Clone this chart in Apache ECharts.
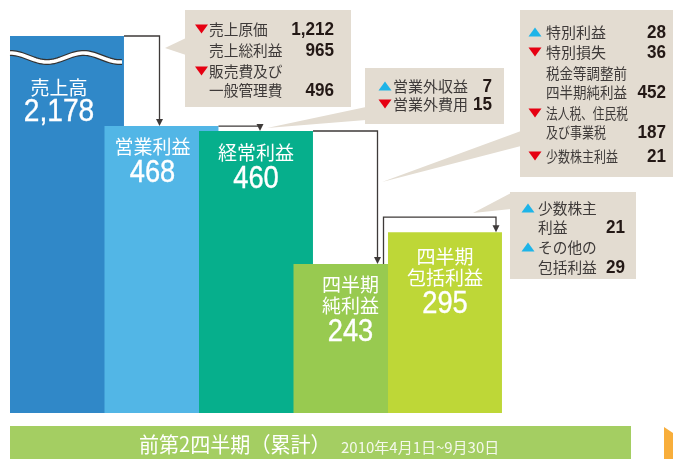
<!DOCTYPE html>
<html>
<head>
<meta charset="utf-8">
<script src="https://cdn.jsdelivr.net/npm/echarts@6/dist/echarts.min.js"></script>
<style>
  html, body { margin: 0; padding: 0; background: #fff; }
  #chart { width: 673px; height: 459px; }
</style>
</head>
<body>
<div id="chart"></div>
<script>
// 前第2四半期（累計）の損益の流れ
const categories = ["売上高", "営業利益", "経常利益", "四半期\n純利益", "四半期\n包括利益"];
const values = [2178, 468, 460, 243, 295];
const valueLabels = ["2,178", "468", "460", "243", "295"];

// callout: 売上高 → 営業利益
const box1Marks = ["down", "", "down", ""];
const box1Labels = ["売上原価", "売上総利益", "販売費及び", "一般管理費"];
const box1Values = ["1,212", "965", "", "496"];

// callout: 営業利益 → 経常利益
const box2Marks = ["up", "down"];
const box2Labels = ["営業外収益", "営業外費用"];
const box2Values = ["7", "15"];

// callout: 経常利益 → 四半期純利益
const box3Marks = ["up", "down", "", "", "down", "", "down"];
const box3Labels = ["特別利益", "特別損失", "税金等調整前", "四半期純利益", "法人税、住民税", "及び事業税", "少数株主利益"];
const box3Values = ["28", "36", "", "452", "", "187", "21"];

// callout: 四半期純利益 → 四半期包括利益
const box4Marks = ["up", "", "up", ""];
const box4Labels = ["少数株主", "利益", "その他の", "包括利益"];
const box4Values = ["", "21", "", "29"];

const periodTitle = "前第2四半期（累計）";
const periodRange = "2010年4月1日~9月30日";

const barColors = ["#3088c8", "#52b6e6", "#06af8c", "#98ca50", "#bed737"];
const yMax = 615;      // 売上高 is cut off (wavy break)
const barW = 1.206;    // bars overlap their neighbours
const cjk = '"Noto Sans CJK JP", sans-serif';
const num = '"Liberation Sans", Arial, sans-serif';
const lineColor = "#3e3a39";

// label placement inside each bar (offsets from the bar's top-left)
const labelDx = [49, 48, 57, 57, 57];
const labelDy = [52, 21, 22, 21, 25];

function renderBar(params, api) {
  const i = params.dataIndex;
  const v = Math.min(api.value(1), yMax);
  const tl = api.coord([api.value(0), v]);
  const bl = api.coord([api.value(0), 0]);
  const w = api.size([barW, 0])[0];
  const children = [{
    type: "rect",
    shape: { x: tl[0], y: tl[1], width: w, height: bl[1] - tl[1] },
    style: { fill: barColors[i] },
    z2: i
  }];
  const cx = tl[0] + labelDx[i];
  const y = tl[1] + labelDy[i];
  const lines = categories[i].split("\n");
  lines.forEach((t, k) => {
    children.push({
      type: "text", z2: 50,
      style: { text: t, x: cx, y: y + k * 21, align: "center", verticalAlign: "middle",
        font: "19px " + cjk, fill: "#fff" }
    });
  });
  const vy = y + (lines.length - 1) * 21 + (i === 0 ? 24 : 26);
  children.push({
    type: "text", z2: 50,
    x: cx, y: vy, scaleX: 0.88,
    style: { text: valueLabels[i], x: 0, y: 0,
      align: "center", verticalAlign: "middle", font: (i === 0 ? "32px " : "31px ") + num,
      fill: "#fff", stroke: "#fff", lineWidth: 0.4 }
  });
  if (i === 0) {
    // wavy break across the first bar
    const pts = [];
    for (let x = tl[0]; x <= tl[0] + w; x += 2) {
      pts.push([x, tl[1] + 21.5 + 4.5 * Math.cos(2 * Math.PI * (x - tl[0] - 37) / 73)]);
    }
    children.push({ type: "polyline", z2: 20, shape: { points: pts },
      style: { stroke: "#333", lineWidth: 6, fill: null } });
    children.push({ type: "polyline", z2: 21, shape: { points: pts },
      style: { stroke: "#fff", lineWidth: 3.6, fill: null } });
  }
  return { type: "group", children };
}

const chart = echarts.init(document.getElementById("chart"));
chart.setOption({
  animation: false,
  grid: { left: 10, right: 96, top: 36, bottom: 46 },
  xAxis: { type: "value", min: 0, max: 6, show: false },
  yAxis: { type: "value", min: 0, max: yMax, show: false },
  series: [{
    type: "custom",
    renderItem: renderBar,
    clip: false,
    data: values.map((v, i) => [i, v])
  }]
});

// pixel helpers from the grid
const px = (x, v) => chart.convertToPixel({ gridIndex: 0 }, [x, Math.min(v, yMax)]);
const barLeft = (i) => px(i, values[i])[0];
const barRight = (i) => px(i + barW, values[i])[0];
const barTop = (i) => px(i, values[i])[1];

const graphics = [];

function arrowDown(x, y) {
  graphics.push({ type: "polygon", z: 10,
    shape: { points: [[x - 3.5, y - 7], [x + 3.5, y - 7], [x, y]] },
    style: { fill: lineColor } });
}
function path(points) {
  graphics.push({ type: "polyline", z: 10, shape: { points },
    style: { stroke: lineColor, lineWidth: 1.3, fill: null } });
}

// connectors between bars
{
  const x1 = barLeft(1) + 55;
  path([[barRight(0), barTop(0)], [x1, barTop(0)], [x1, barTop(1) - 6]]);
  arrowDown(x1, barTop(1));
  const x2 = barLeft(2) + 61;
  path([[barRight(1), barTop(1)], [x2, barTop(1)]]);
  arrowDown(x2, barTop(2));
  const x3 = barLeft(3) + 84;
  path([[barRight(2), barTop(2)], [x3, barTop(2)], [x3, barTop(3) - 6]]);
  arrowDown(x3, barTop(3));
  const x4a = barLeft(3) + 90;
  const x4b = barLeft(4) + 108;
  const yUp = barTop(4) - 15;
  path([[x4a, barTop(3)], [x4a, yUp], [x4b, yUp], [x4b, barTop(4) - 6]]);
  arrowDown(x4b, barTop(4));
}

// callout boxes (squeeze = horizontal scale of each label)
const boxes = [
  { marks: box1Marks, labels: box1Labels, values: box1Values,
    rect: [185, 10, 166, 97], tail: [[165, 48], [186, 38], [186, 55]],
    markX: 201.5, textX: 209, numX: 334, rowY: [29, 50, 71, 90],
    squeeze: [0.98, 0.98, 0.98, 0.98] },
  { marks: box2Marks, labels: box2Labels, values: box2Values,
    rect: [365, 68, 139, 56], tail: [[267, 128], [366, 107], [366, 120]],
    markX: 385, textX: 393, numX: 492, rowY: [86, 104],
    squeeze: [1, 1] },
  { marks: box3Marks, labels: box3Labels, values: box3Values,
    rect: [520, 10, 153, 167], tail: [[382, 182], [521, 131], [521, 146]],
    markX: 535, textX: 546, numX: 666, rowY: [32, 52, 73, 92, 113, 132, 156],
    squeeze: [1, 1, 0.9, 0.9, 0.78, 0.8, 0.8] },
  { marks: box4Marks, labels: box4Labels, values: box4Values,
    rect: [510, 192, 126, 87], tail: [[473, 213], [511, 193], [511, 209]],
    markX: 528, textX: 538, numX: 625, rowY: [208, 227, 247, 267],
    squeeze: [0.98, 0.98, 0.98, 0.98] }
];

boxes.forEach((b) => {
  graphics.push({ type: "polygon", z: 5, shape: { points: b.tail }, style: { fill: "#e3dcd1" } });
  graphics.push({ type: "rect", z: 5,
    shape: { x: b.rect[0], y: b.rect[1], width: b.rect[2], height: b.rect[3] },
    style: { fill: "#e3dcd1" } });
  b.labels.forEach((t, k) => {
    const y = b.rowY[k];
    const m = b.marks[k];
    if (m === "down") {
      graphics.push({ type: "polygon", z: 6,
        shape: { points: [[b.markX - 6.5, y - 4.5], [b.markX + 6.5, y - 4.5], [b.markX, y + 4.5]] },
        style: { fill: "#e60012" } });
    } else if (m === "up") {
      graphics.push({ type: "polygon", z: 6,
        shape: { points: [[b.markX - 6.5, y + 4.5], [b.markX + 6.5, y + 4.5], [b.markX, y - 4.5]] },
        style: { fill: "#1eb4e8" } });
    }
    graphics.push({ type: "text", z: 6, x: b.textX, y, scaleX: b.squeeze[k],
      style: { text: t, x: 0, y: 0, verticalAlign: "middle", font: "15px " + cjk, fill: "#3e3a39" } });
    if (b.values[k]) {
      graphics.push({ type: "text", z: 6, x: b.numX, y: y + 1, scaleX: 0.9,
        style: { text: b.values[k], x: 0, y: 0, align: "right", verticalAlign: "middle",
          font: "bold 19px " + num, fill: "#231815" } });
    }
  });
});

// period banner
graphics.push({ type: "rect", shape: { x: 10, y: 426, width: 621, height: 33 }, style: { fill: "#a4ce62" } });
graphics.push({ type: "text", x: 139, y: 444, scaleX: 0.955,
  style: { text: periodTitle, x: 0, y: 0, verticalAlign: "middle", font: "21px " + cjk, fill: "#fff" } });
graphics.push({ type: "text", x: 341, y: 447,
  style: { text: periodRange, x: 0, y: 0, verticalAlign: "middle", font: "15px " + cjk, fill: "#f4f8ec" } });
graphics.push({ type: "polygon", shape: { points: [[664, 427], [673, 433], [673, 459], [664, 459]] },
  style: { fill: "#f8ae3b" } });

chart.setOption({ graphic: graphics });
</script>
</body>
</html>
